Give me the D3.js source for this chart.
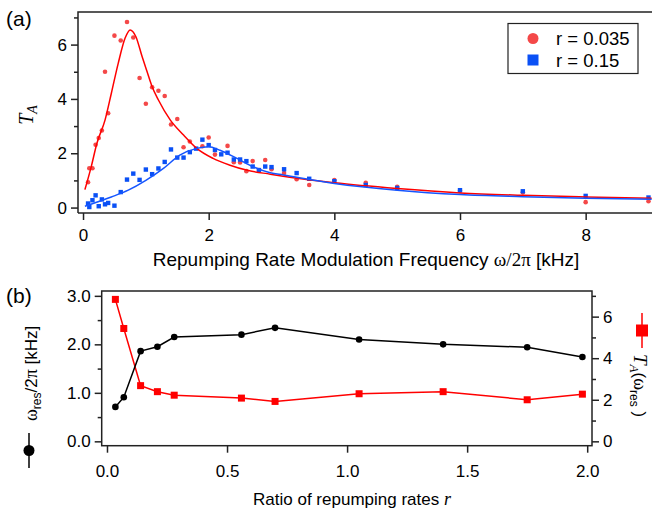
<!DOCTYPE html>
<html>
<head>
<meta charset="utf-8">
<script src="https://cdn.jsdelivr.net/npm/d3@7"></script>
<style>
  body { margin: 0; background: #fff; }
  svg text { font-family: 'Liberation Sans', Arial, sans-serif; fill: #000; }
  .axis path, .axis line { stroke: #222; stroke-width: 1.5; }
  .sym { font-family: 'Liberation Serif', 'Times New Roman', serif; }
</style>
</head>
<body>
<svg id="chart" width="652" height="515"></svg>
<script>
'use strict'

// panel (a): T_A vs modulation frequency
const freqRed = [0.08, 0.1, 0.15, 0.2, 0.25, 0.3, 0.35, 0.4, 0.5, 0.6, 0.7, 0.8, 0.9, 1.0, 1.1, 1.2, 1.3, 1.4, 1.5, 1.6, 1.7, 1.9, 2.0, 2.1, 2.3, 2.4, 2.5, 2.6, 2.7, 2.8, 2.9, 3.0, 3.2, 3.4, 3.6, 4.0, 4.5, 5.0, 6.0, 7.0, 8.0, 9.0]
const taRed = [0.93, 1.45, 1.45, 2.31, 2.56, 2.84, 5.0, 3.47, 6.33, 6.15, 6.83, 6.26, 4.77, 3.82, 4.43, 4.30, 4.11, 3.06, 3.26, 2.22, 2.43, 2.26, 2.58, 1.95, 2.27, 1.67, 1.66, 1.34, 1.71, 1.38, 1.75, 1.41, 1.27, 1.04, 0.83, 1.01, 0.91, 0.76, 0.62, 0.56, 0.2, 0.23]
const freqBlue = [0.08, 0.1, 0.15, 0.2, 0.25, 0.3, 0.35, 0.4, 0.5, 0.6, 0.7, 0.8, 0.9, 1.0, 1.1, 1.2, 1.3, 1.4, 1.5, 1.6, 1.7, 1.8, 1.9, 2.0, 2.1, 2.2, 2.3, 2.4, 2.5, 2.6, 2.7, 2.8, 2.9, 3.0, 3.2, 3.4, 3.6, 4.0, 4.5, 5.0, 6.0, 7.0, 8.0, 9.0]
const taBlue = [0.15, 0.02, 0.27, 0.45, 0.05, 0.3, 0.12, 0.17, 0.07, 0.57, 1.03, 1.25, 1.02, 1.4, 1.23, 1.44, 1.68, 2.14, 1.84, 1.84, 2.04, 2.17, 2.5, 2.3, 2.12, 1.96, 2.02, 1.77, 1.77, 1.71, 1.51, 1.38, 1.51, 1.49, 1.41, 1.27, 1.06, 0.97, 0.83, 0.72, 0.64, 0.6, 0.43, 0.37]

// fitted curves
const fitRedF = [0.03, 0.13, 0.22, 0.35, 0.45, 0.56, 0.67, 0.75, 0.84, 0.94, 1.02, 1.1, 1.2, 1.39, 1.6, 1.81, 2.07, 2.34, 2.6, 2.98, 3.5, 4.0, 5.0, 6.0, 7.0, 8.0, 9.05]
const fitRedT = [0.66, 1.5, 2.36, 3.22, 4.2, 5.31, 6.24, 6.54, 6.3, 5.56, 5.0, 4.45, 3.96, 3.22, 2.67, 2.18, 1.81, 1.56, 1.38, 1.23, 1.05, 0.91, 0.7, 0.54, 0.45, 0.39, 0.34]
const fitBlueF = [0.03, 0.45, 0.72, 1.0, 1.28, 1.54, 1.81, 2.0, 2.18, 2.45, 2.71, 2.98, 3.19, 4.0, 5.0, 6.0, 7.0, 8.0, 9.05]
const fitBlueT = [0.05, 0.39, 0.64, 1.0, 1.44, 1.93, 2.18, 2.24, 2.11, 1.81, 1.5, 1.28, 1.2, 0.89, 0.64, 0.48, 0.4, 0.34, 0.31]

const legendLabels = ['r = 0.035', 'r = 0.15']
const ticksA_x = [0, 2, 4, 6, 8]
const ticksA_y = [0, 2, 4, 6]

// panel (b): resonance vs ratio of repumping rates
const ratio = [0.035, 0.07, 0.14, 0.21, 0.28, 0.56, 0.7, 1.05, 1.4, 1.75, 1.98]
const omegaRes = [0.71, 0.91, 1.86, 1.95, 2.15, 2.2, 2.34, 2.1, 2.0, 1.94, 1.74]
const taRes = [6.83, 5.43, 2.68, 2.39, 2.22, 2.08, 1.92, 2.29, 2.39, 2.0, 2.27]
const ticksB_x = [0, 0.5, 1.0, 1.5, 2.0]
const ticksB_yl = [0, 1, 2, 3]
const ticksB_yr = [0, 2, 4, 6]

const RED_PT = '#f44848'
const BLUE_PT = '#0a50f5'
const TICK_FONT = '17px'
const svg = d3.select('#chart')

function addAxis (g, axis, major) {
  g.call(axis)
  g.select('.domain').remove()
  g.selectAll('text').style('font-size', major ? TICK_FONT : '0px')
}

// ---------- panel (a) ----------
const xA = d3.scaleLinear().domain([-0.08, 9.04]).range([78, 651])
const yA = d3.scaleLinear().domain([-0.2, 7.2]).range([213, 12])

const ga = svg.append('g')
ga.append('g').attr('class', 'axis').attr('transform', 'translate(0,213)')
  .call(g => addAxis(g, d3.axisBottom(xA).tickValues(ticksA_x).tickSize(7).tickPadding(9).tickFormat(d3.format('d')), true))
ga.append('g').attr('class', 'axis').attr('transform', 'translate(78,0)')
  .call(g => addAxis(g, d3.axisLeft(yA).tickValues(ticksA_y).tickSize(7).tickPadding(4).tickFormat(d3.format('d')), true))
ga.append('g').attr('class', 'axis').attr('transform', 'translate(78,0)')
  .call(g => addAxis(g, d3.axisLeft(yA).tickValues([1, 3, 5, 7]).tickSize(4).tickFormat(''), false))
ga.append('path')
  .attr('d', 'M78,213V12H652')
  .attr('fill', 'none').attr('stroke', '#222').attr('stroke-width', 1.5)
ga.append('line').attr('x1', 78).attr('x2', 652).attr('y1', 213).attr('y2', 213)
  .attr('stroke', '#222').attr('stroke-width', 1.5)

ga.append('defs').append('clipPath').attr('id', 'clipA')
  .append('rect').attr('x', 78).attr('y', 12).attr('width', 574).attr('height', 201)
const plotA = ga.append('g').attr('clip-path', 'url(#clipA)')

const lineA = d3.line().x(d => xA(d[0])).y(d => yA(d[1])).curve(d3.curveMonotoneX)
plotA.selectAll('circle.red')
  .data(d3.zip(freqRed, taRed))
  .enter()
  .append('circle')
  .attr('class', 'red')
  .attr('cx', d => xA(d[0]))
  .attr('cy', d => yA(d[1]))
  .attr('r', 2.3)
  .attr('fill', RED_PT)
plotA.selectAll('rect.blue')
  .data(d3.zip(freqBlue, taBlue))
  .enter()
  .append('rect')
  .attr('class', 'blue')
  .attr('x', d => xA(d[0]) - 2.2)
  .attr('y', d => yA(d[1]) - 2.2)
  .attr('width', 4.4)
  .attr('height', 4.4)
  .attr('fill', BLUE_PT)
plotA.append('path').datum(d3.zip(fitRedF, fitRedT))
  .attr('d', lineA).attr('fill', 'none').attr('stroke', '#ff0000').attr('stroke-width', 1.5)
plotA.append('path').datum(d3.zip(fitBlueF, fitBlueT))
  .attr('d', lineA).attr('fill', 'none').attr('stroke', '#1555ff').attr('stroke-width', 1.5)

// legend
const lg = ga.append('g')
lg.append('rect').attr('x', 508).attr('y', 23.5).attr('width', 130).attr('height', 50)
  .attr('fill', '#fff').attr('stroke', '#222').attr('stroke-width', 1.2)
lg.append('circle').attr('cx', 533).attr('cy', 38.5).attr('r', 5.5).attr('fill', RED_PT)
lg.append('rect').attr('x', 527.5).attr('y', 54.5).attr('width', 11).attr('height', 11).attr('fill', BLUE_PT)
lg.selectAll('text')
  .data(legendLabels)
  .enter()
  .append('text')
  .attr('x', 556)
  .attr('y', (d, i) => 45 + i * 22)
  .style('font-size', '18.5px')
  .text(d => d)

ga.append('text').attr('x', 366).attr('y', 266).attr('text-anchor', 'middle')
  .style('font-size', '19px')
  .call(t => {
    t.append('tspan').text('Repumping Rate Modulation Frequency ')
    t.append('tspan').attr('class', 'sym').text('\u03c9/2\u03c0')
    t.append('tspan').text(' [kHz]')
  })
ga.append('text').attr('transform', 'translate(33,115) rotate(-90)').attr('text-anchor', 'middle')
  .call(t => {
    t.append('tspan').attr('class', 'sym').style('font-style', 'italic').style('font-size', '20px').text('T')
    t.append('tspan').attr('class', 'sym').style('font-style', 'italic').style('font-size', '14px').attr('dy', 4).text('A')
  })
svg.append('text').attr('x', 6).attr('y', 26).style('font-size', '21px').text('(a)')

// ---------- panel (b) ----------
const xB = d3.scaleLinear().domain([-0.022, 2.02]).range([101.7, 592])
const yBL = d3.scaleLinear().domain([-0.09, 3.1]).range([445.7, 291])
const yBR = d3.scaleLinear().domain([-0.09 * 7 / 3, 3.1 * 7 / 3]).range([445.7, 291])

const gb = svg.append('g')
gb.append('g').attr('class', 'axis').attr('transform', 'translate(0,445.7)')
  .call(g => addAxis(g, d3.axisBottom(xB).tickValues(ticksB_x).tickSize(7).tickPadding(12).tickFormat(d3.format('.1f')), true))
gb.append('g').attr('class', 'axis').attr('transform', 'translate(101.7,0)')
  .call(g => addAxis(g, d3.axisLeft(yBL).tickValues(ticksB_yl).tickSize(7).tickPadding(4).tickFormat(d3.format('.1f')), true))
gb.append('g').attr('class', 'axis').attr('transform', 'translate(101.7,0)')
  .call(g => addAxis(g, d3.axisLeft(yBL).tickValues([0.5, 1.5, 2.5]).tickSize(4).tickFormat(''), false))
gb.append('g').attr('class', 'axis').attr('transform', 'translate(592,0)')
  .call(g => addAxis(g, d3.axisRight(yBR).tickValues(ticksB_yr).tickSize(7).tickPadding(4).tickFormat(d3.format('d')), true))
gb.append('g').attr('class', 'axis').attr('transform', 'translate(592,0)')
  .call(g => addAxis(g, d3.axisRight(yBR).tickValues([1, 3, 5, 7]).tickSize(4).tickFormat(''), false))
gb.append('rect').attr('x', 101.7).attr('y', 291).attr('width', 490.3).attr('height', 154.7)
  .attr('fill', 'none').attr('stroke', '#222').attr('stroke-width', 1.5)

const lineBL = d3.line().x(d => xB(d[0])).y(d => yBL(d[1]))
const lineBR = d3.line().x(d => xB(d[0])).y(d => yBR(d[1]))
gb.append('path').datum(d3.zip(ratio, taRes))
  .attr('d', lineBR).attr('fill', 'none').attr('stroke', '#ff0000').attr('stroke-width', 1.5)
gb.selectAll('rect.ta')
  .data(d3.zip(ratio, taRes))
  .enter()
  .append('rect')
  .attr('class', 'ta')
  .attr('x', d => xB(d[0]) - 3.5)
  .attr('y', d => yBR(d[1]) - 3.5)
  .attr('width', 7)
  .attr('height', 7)
  .attr('fill', '#ff0000')
gb.append('path').datum(d3.zip(ratio, omegaRes))
  .attr('d', lineBL).attr('fill', 'none').attr('stroke', '#000').attr('stroke-width', 1.5)
gb.selectAll('circle.om')
  .data(d3.zip(ratio, omegaRes))
  .enter()
  .append('circle')
  .attr('class', 'om')
  .attr('cx', d => xB(d[0]))
  .attr('cy', d => yBL(d[1]))
  .attr('r', 3.3)
  .attr('fill', '#000')

gb.append('text').attr('x', 352).attr('y', 505).attr('text-anchor', 'middle')
  .style('font-size', '17px')
  .call(t => {
    t.append('tspan').text('Ratio of repumping rates ')
    t.append('tspan').attr('class', 'sym').style('font-style', 'italic').style('font-size', '18px').text('r')
  })

// left y label with marker
gb.append('line').attr('x1', 29).attr('x2', 29).attr('y1', 433).attr('y2', 468).attr('stroke', '#000').attr('stroke-width', 1.5)
gb.append('circle').attr('cx', 29).attr('cy', 450.5).attr('r', 5.5).attr('fill', '#000')
gb.append('text').attr('transform', 'translate(37,421) rotate(-90)')
  .style('font-size', '17px')
  .call(t => {
    t.append('tspan').attr('class', 'sym').style('font-size', '18px').text('\u03c9')
    t.append('tspan').style('font-size', '12px').attr('dy', 4).text('res')
    t.append('tspan').attr('dy', -4).text('/2')
    t.append('tspan').attr('class', 'sym').style('font-size', '18px').text('\u03c0')
    t.append('tspan').text(' [kHz]')
  })

// right y label with marker
gb.append('line').attr('x1', 642).attr('x2', 642).attr('y1', 313).attr('y2', 348).attr('stroke', '#ff0000').attr('stroke-width', 1.5)
gb.append('rect').attr('x', 636).attr('y', 324.5).attr('width', 12).attr('height', 12).attr('fill', '#ff0000')
gb.append('text').attr('transform', 'translate(634,354) rotate(90)')
  .style('font-size', '17px')
  .call(t => {
    t.append('tspan').attr('class', 'sym').style('font-style', 'italic').style('font-size', '19px').text('T')
    t.append('tspan').attr('class', 'sym').style('font-style', 'italic').style('font-size', '13px').attr('dy', 4).text('A')
    t.append('tspan').attr('dy', -4).text('(')
    t.append('tspan').attr('class', 'sym').style('font-size', '18px').text('\u03c9')
    t.append('tspan').style('font-size', '12px').attr('dy', 4).text('res')
    t.append('tspan').attr('dy', -4).text(' )')
  })
svg.append('text').attr('x', 6).attr('y', 303).style('font-size', '21px').text('(b)')
</script>
</body>
</html>
